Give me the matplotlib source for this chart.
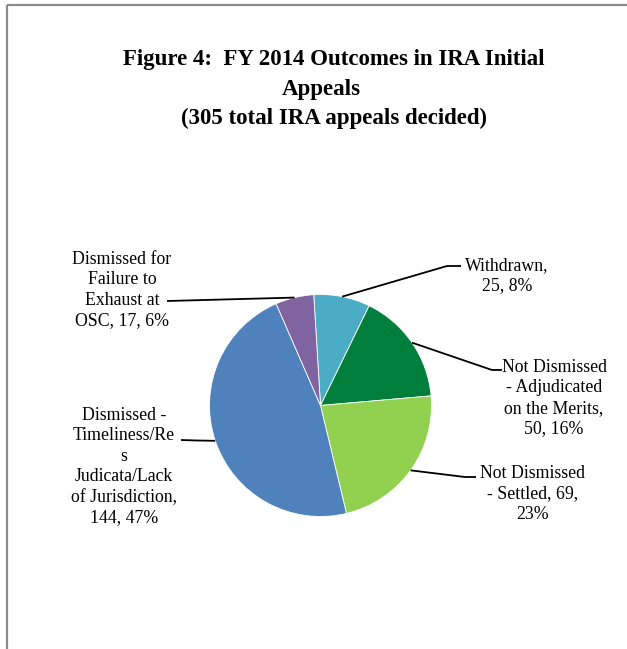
import numpy as np
import matplotlib
matplotlib.use("Agg")
import matplotlib.pyplot as plt

# ---- data ----
categories = [
    "Withdrawn",
    "Not Dismissed - Adjudicated on the Merits",
    "Not Dismissed - Settled",
    "Dismissed - Timeliness/Res Judicata/Lack of Jurisdiction",
    "Dismissed for Failure to Exhaust at OSC",
]
counts = [25, 50, 69, 144, 17]
percent_labels = ["8%", "16%", "23%", "47%", "6%"]
label_texts = [
    "Withdrawn,\n25, 8%",
    "Not Dismissed\n- Adjudicated\non the Merits,\n50, 16%",
    "Not Dismissed\n- Settled, 69,\n23%",
    "Dismissed -\nTimeliness/Re\ns\nJudicata/Lack\nof Jurisdiction,\n144, 47%",
    "Dismissed for\nFailure to\nExhaust at\nOSC, 17, 6%",
]
colors = ["#4BACC6", "#007F3C", "#92D050", "#4F81BD", "#8064A2"]
title_lines = ["Figure 4:  FY 2014 Outcomes in IRA Initial", "Appeals",
               "(305 total IRA appeals decided)"]

W, H = 627, 649
FONT = ["Liberation Serif", "DejaVu Serif"]

def Y(y):
    return H - y

fig = plt.figure(figsize=(W / 100, H / 100), dpi=100)
ax = fig.add_axes([0, 0, 1, 1])

cx, cy, R = 320.5, Y(405.5), 111
wedges, _ = ax.pie(counts, colors=colors, startangle=93.5, counterclock=False,
                   center=(cx, cy), radius=R,
                   wedgeprops=dict(edgecolor="white", linewidth=0.6))
ax.set_xlim(0, W)
ax.set_ylim(0, H)
ax.set_aspect("equal")
ax.axis("off")

# frame (left and top borders)
ax.plot([7, 7], [Y(5), Y(H + 5)], color="#8A8A8A", lw=1.6, solid_capstyle="butt")
ax.plot([7, W + 5], [Y(5), Y(5)], color="#8A8A8A", lw=1.6, solid_capstyle="butt")

# title
for txt, yy, xx in zip(title_lines, [60, 89, 118], [334, 321, 334]):
    ax.text(xx, Y(yy), txt, ha="center", va="center", fontsize=16.5,
            fontweight="bold", family=FONT)

# labels: (text centre x, text centre y, elbow point, end point)
label_pos = [
    (507, 275.5, (447, 266), (461, 266)),
    (554, 398, (492, 370), (502, 370)),
    (533, 494, (465, 477), (476, 477)),
    (124, 466.5, (197, 440.5), (181, 440)),
    (122, 290, (167, 301), (167, 301)),
]
for w, txt, (tx, ty, elbow, end) in zip(wedges, label_texts, label_pos):
    mid = np.deg2rad((w.theta1 + w.theta2) / 2)
    ex, ey = cx + R * np.cos(mid), cy + R * np.sin(mid)
    ax.plot([ex, elbow[0], end[0]], [ey, Y(elbow[1]), Y(end[1])],
            color="black", lw=1.3, solid_capstyle="butt")
    ax.text(tx, Y(ty), txt, ha="center", va="center", multialignment="center",
            fontsize=12.8, linespacing=1.27, family=FONT)

fig.savefig("out.png", dpi=100, facecolor="white")
